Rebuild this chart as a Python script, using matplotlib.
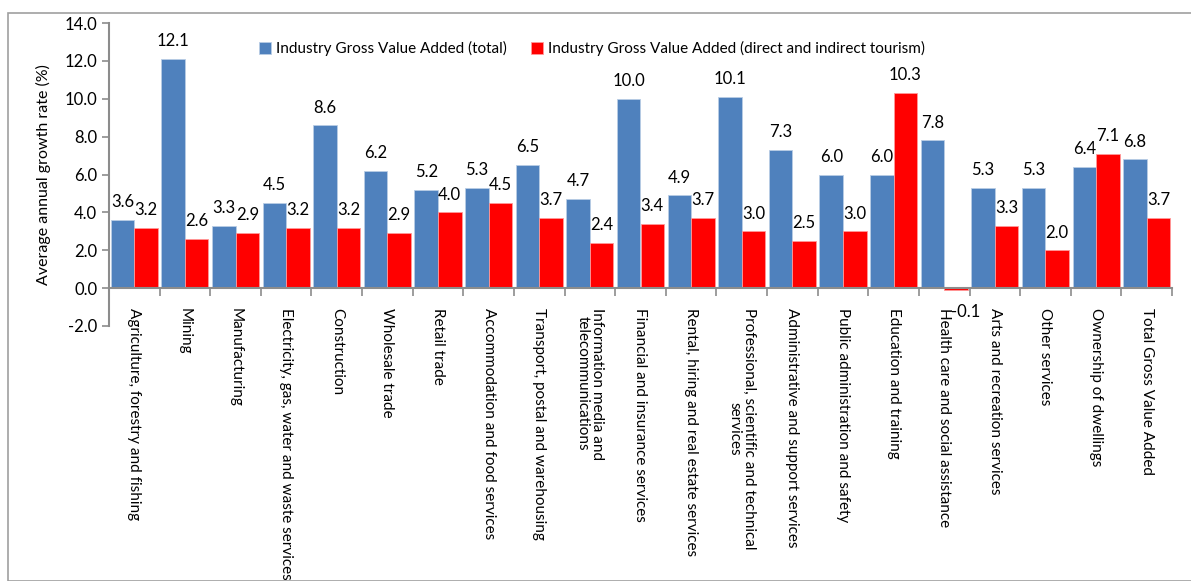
import numpy as np
import matplotlib
matplotlib.use("Agg")
import matplotlib.pyplot as plt
from matplotlib.patches import Rectangle

plt.rcParams['font.family'] = ['Lato', 'DejaVu Sans']

# data
industries = [
    "Agriculture, forestry and fishing",
    "Mining",
    "Manufacturing",
    "Electricity, gas, water and waste services",
    "Construction",
    "Wholesale trade",
    "Retail trade",
    "Accommodation and food services",
    "Transport, postal and warehousing",
    "Information media and\ntelecommunications",
    "Financial and insurance services",
    "Rental, hiring and real estate services",
    "Professional, scientific and technical\nservices",
    "Administrative and support services",
    "Public administration and safety",
    "Education and training",
    "Health care and social assistance",
    "Arts and recreation services",
    "Other services",
    "Ownership of dwellings",
    "Total Gross Value Added",
]
gva_total = [3.6, 12.1, 3.3, 4.5, 8.6, 6.2, 5.2, 5.3, 6.5, 4.7, 10.0, 4.9,
             10.1, 7.3, 6.0, 6.0, 7.8, 5.3, 5.3, 6.4, 6.8]
gva_tourism = [3.2, 2.6, 2.9, 3.2, 3.2, 2.9, 4.0, 4.5, 3.7, 2.4, 3.4, 3.7,
               3.0, 2.5, 3.0, 10.3, -0.1, 3.3, 2.0, 7.1, 3.7]

blue = "#4F81BD"
red = "#FF0000"
grey = "#8C8C8C"

fig = plt.figure(figsize=(11.91, 5.81), dpi=100)
fig.patches.append(Rectangle((8/1191, 0), 1.0, 1 - 13/581, transform=fig.transFigure,
                             fill=False, edgecolor="#A0A0A0", lw=1.2))
ax = fig.add_axes([109/1191, 1 - 326/581, (1172 - 109)/1191, (326 - 23)/581])

x = np.arange(len(industries))
w = 0.465
b1 = ax.bar(x - w/2, gva_total, w, color=blue, edgecolor="#B9CDE5", lw=0.6,
            label="Industry Gross Value Added (total)")
b2 = ax.bar(x + w/2, gva_tourism, w, color=red, edgecolor="#FF9999", lw=0.6,
            label="Industry Gross Value Added (direct and indirect tourism)")

for bars in (b1, b2):
    for r in bars:
        v = r.get_height()
        if v >= 0:
            ax.annotate(f"{v:.1f}", (r.get_x() + r.get_width()/2, v),
                        xytext=(0, 7), textcoords="offset points",
                        ha="center", va="bottom", fontsize=12)
        else:
            ax.annotate(f"{v:.1f}", (r.get_x() + r.get_width()/2, v),
                        xytext=(7, -10), textcoords="offset points",
                        ha="center", va="top", fontsize=12)

ax.set_xlim(-0.5, len(industries) - 0.5)
ax.set_ylim(-2, 14)
ax.set_yticks(np.arange(-2, 15, 2))
ax.set_yticklabels([f"{t:.1f}" for t in np.arange(-2, 15, 2)], fontsize=12)
ax.set_ylabel("Average annual growth rate (%)", fontsize=11.5, labelpad=10)

ax.spines['top'].set_visible(False)
ax.spines['right'].set_visible(False)
ax.spines['bottom'].set_position(('data', 0))
for s in ('left', 'bottom'):
    ax.spines[s].set_color(grey)
    ax.spines[s].set_linewidth(1.5)

ax.set_xticks(x)
ax.set_xticklabels(industries, rotation=270, fontsize=11, va="top",
                   ha="center", multialignment="center", linespacing=1.0)
ax.tick_params(axis='x', length=0, pad=14)
ax.set_xticks(np.arange(-0.5, len(industries), 1), minor=True)
ax.tick_params(axis='x', which='minor', length=6, color=grey, width=1.2, direction='out')
ax.tick_params(axis='y', length=5, color=grey, width=1.2)

ax.legend(loc="upper left", bbox_to_anchor=(0.128, 0.985), ncol=2, frameon=False,
          fontsize=11, handlelength=0.8, handleheight=0.8, handletextpad=0.3,
          columnspacing=1.6)

fig.savefig("out.png", dpi=100)
